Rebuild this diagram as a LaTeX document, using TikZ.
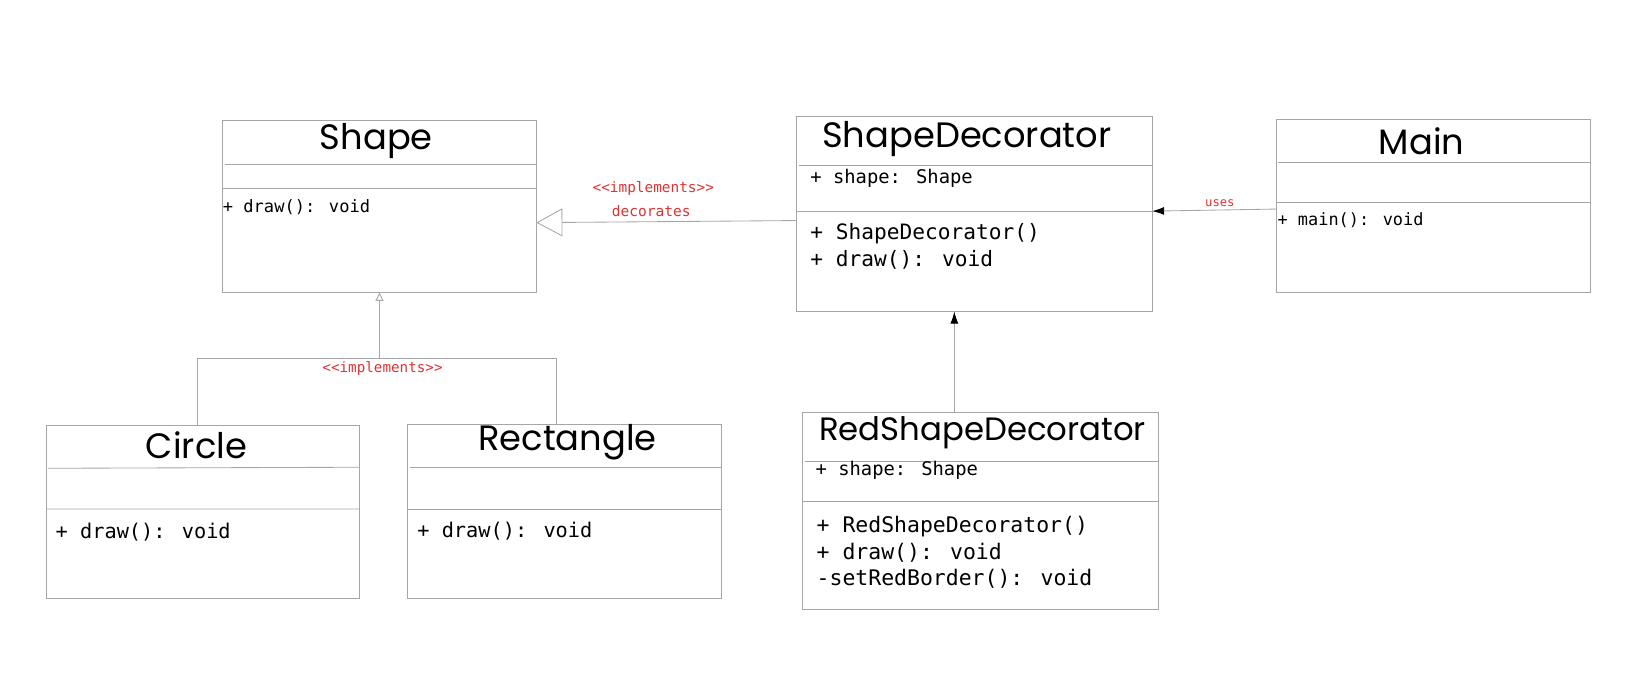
\documentclass[tikz,border=0pt]{standalone}
\usepackage{fontspec}
\usetikzlibrary{arrows.meta}
\newfontfamily\handfont{Poppins}
\newfontfamily\codefont{DejaVu Sans Mono}
\definecolor{lblred}{HTML}{E03131}
\newcommand\cf[1]{\codefont\fontsize{#1}{#1}\selectfont}
\begin{document}
\begin{tikzpicture}[x=0.025cm, y=-0.025cm, scale=1.0453, transform shape,
    box/.style={draw=gray!70, line width=0.6pt, inner sep=0, outer sep=0},
    sep/.style={draw=gray!70, line width=0.6pt},
    title/.style={font=\handfont\fontsize{24}{24}\selectfont, inner sep=0},
    member/.style={anchor=west, inner sep=0},
    lbl/.style={text=lblred, inner sep=0},
    link/.style={draw=gray!70, line width=0.6pt}]
  \useasboundingbox (0,0) rectangle (1568,668);
  % class boxes
  \node (shape) [box, minimum width=7.5cm, minimum height=4.125cm] at (363,197.5) {};
  \node (circle) [box, minimum width=7.5cm, minimum height=4.125cm] at (194,489.5) {};
  \node (rect) [box, minimum width=7.5cm, minimum height=4.15cm] at (540,489) {};
  \node (deco) [box, minimum width=8.5cm, minimum height=4.675cm] at (932,204.5) {};
  \node (main) [box, minimum width=7.5cm, minimum height=4.15cm] at (1371,197) {};
  \node (red) [box, minimum width=8.5cm, minimum height=4.7cm] at (938,489) {};
  \draw[sep] (215,157) -- (513,157) (213,180) -- (513,180);
  \draw[sep] (46,448) -- (344,447) (44,487) -- (344,487);
  \draw[sep] (392,447) -- (690,447) (390,487) -- (690,487);
  \draw[sep] (764,158) -- (1102,158) (762,202) -- (1102,202);
  \draw[sep] (1223,155) -- (1521,155) (1221,194) -- (1521,194);
  \draw[sep] (770,441) -- (1108,441) (768,480) -- (1108,480);
  % titles
  \node (shapet) [title] at (360,135) {Shape};
  \node (circlet) [title] at (188,426) {Circle};
  \node (rectt) [title] at (543,423) {Rectangle};
  \node (decot) [title] at (925,133) {ShapeDecorator};
  \node (maint) [title] at (1360,135) {Main};
  \node (redt) [title, font=\handfont\fontsize{22}{22}\selectfont] at (940,414) {RedShapeDecorator};
  % members
  \node (shapem) [member, font=\cf{11.6}] at (213,198) {+ draw(): void};
  \node (circlem) [member, font=\cf{13.8}] at (53,509) {+ draw(): void};
  \node (rectm) [member, font=\cf{13.8}] at (399,508) {+ draw(): void};
  \node (decoa) [member, font=\cf{12.8}] at (775,171) {+ shape: Shape};
  \node (decom1) [member, font=\cf{14.4}] at (775,224) {+ ShapeDecorator()};
  \node (decom2) [member, font=\cf{14.4}] at (775,249) {+ draw(): void};
  \node (mainm) [member, font=\cf{11.5}] at (1222,211) {+ main(): void};
  \node (reda) [member, font=\cf{12.8}] at (780,450) {+ shape: Shape};
  \node (redm1) [member, font=\cf{14.6}] at (781,504) {+ RedShapeDecorator()};
  \node (redm2) [member, font=\cf{14.6}] at (781,529) {+ draw(): void};
  \node (redm3) [member, font=\cf{14.6}] at (781,554) {-setRedBorder(): void};
  % connectors
  \draw[link, -{Triangle[open, length=0.65cm, width=0.7cm]}] (deco.west |- 0,211) -- (shape.east |- 0,213);
  \node (impl1) [lbl, font=\cf{9.8}] at (625,180) {<<implements>>};
  \node (decl) [lbl, font=\cf{9.9}] at (623,202) {decorates};
  \coordinate (hub) at (363,343);
  \coordinate (jl) at (189,343);
  \coordinate (jr) at (532,343);
  \draw[link, -{Triangle[open, length=0.2cm, width=0.2cm]}] (hub) -- (shape.south);
  \draw[link] (jl |- circle.north) -- (jl) -- (jr) -- (jr |- rect.north);
  \node (impl2) [lbl, font=\cf{9.7}] at (366,353) {<<implements>>};
  \draw[link, -{Latex[black, length=0.3cm, width=0.2cm]}] (main.west |- 0,200) -- (deco.east |- 0,202);
  \node (usesl) [lbl, font=\cf{8.3}] at (1167,194) {uses};
  \draw[link, -{Latex[black, length=0.3cm, width=0.2cm]}] (red.north -| 913,0) -- (deco.south -| 913,0);
\end{tikzpicture}
\end{document}
